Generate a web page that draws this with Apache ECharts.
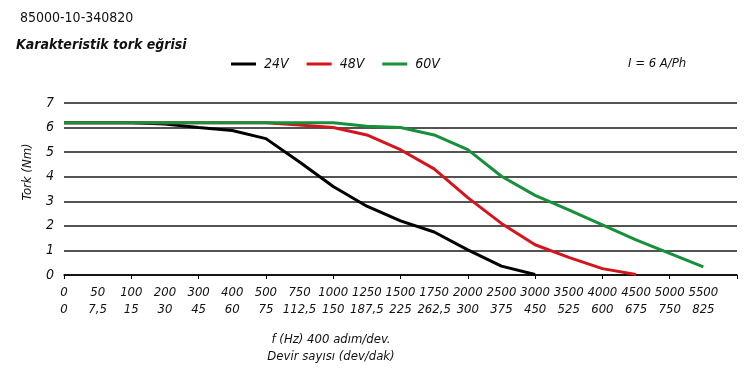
<!DOCTYPE html>
<html><head><meta charset="utf-8">
<script src="https://cdn.jsdelivr.net/npm/echarts@6/dist/echarts.min.js"></script>
<style>html,body{margin:0;padding:0;background:#fff}#c{width:750px;height:386px}</style>
</head><body><div id="c"></div>
<script>
const FONT = '"Liberation Sans Narrow","DejaVu Sans Condensed","Arial Narrow","Liberation Sans",sans-serif';
const freqLabels = ['0','50','100','200','300','400','500','750','1000','1250','1500','1750','2000','2500','3000','3500','4000','4500','5000','5500',''];
const rpmLabels  = ['0','7,5','15','30','45','60','75','112,5','150','187,5','225','262,5','300','375','450','525','600','675','750','825',''];
const v24 = [6.2,6.2,6.2,6.15,6.0,5.88,5.55,4.6,3.6,2.8,2.2,1.75,1.02,0.36,0.02];
const v48 = [6.2,6.2,6.2,6.2,6.2,6.2,6.2,6.1,6.0,5.7,5.1,4.32,3.15,2.1,1.23,0.72,0.26,0.02];
const v60 = [6.2,6.2,6.2,6.2,6.2,6.2,6.2,6.2,6.2,6.05,6.0,5.7,5.1,4.02,3.24,2.65,2.04,1.43,0.88,0.33];
const seriesNames = ['24V','48V','60V'];
const colors = ['#000000','#d3161d','#16903a'];

const chart = echarts.init(document.getElementById('c'), null, {renderer:'canvas'});
chart.setOption({
  animation:false,
  backgroundColor:'#fff',
  textStyle:{fontFamily:FONT},
  title:[
    {text:'85000-10-340820', left:15, top:6, textStyle:{fontFamily:FONT,fontSize:14,fontWeight:'normal',color:'#111'}},
    {text:'Karakteristik tork eğrisi', left:11, top:33, textStyle:{fontFamily:FONT,fontSize:14,fontWeight:'bold',fontStyle:'italic',color:'#111'}},
    {text:'I = 6 A/Ph', left:623, top:52, textStyle:{fontFamily:FONT,fontSize:13,fontWeight:'normal',fontStyle:'italic',color:'#111'}}
  ],
  legend:{
    left:226, top:52, itemWidth:25, itemHeight:3, itemGap:18, icon:'rect',
    data:seriesNames,
    textStyle:{fontFamily:FONT,fontSize:14,fontStyle:'italic',color:'#111',padding:[0,0,0,3]}
  },
  grid:{left:64, right:13, top:103, bottom:111, containLabel:false},
  xAxis:{
    type:'category', boundaryGap:false, data:freqLabels.map((f,i)=>i),
    axisLine:{lineStyle:{color:'#000',width:1.5}},
    axisTick:{interval:1, length:4, lineStyle:{color:'#000',width:1}},
    axisLabel:{
      interval:0, margin:9,
      formatter:(v,i)=> freqLabels[i]==='' ? '' : '{a|'+freqLabels[i]+'}\n{b|'+rpmLabels[i]+'}',
      rich:{
        a:{fontFamily:FONT,fontSize:13,fontStyle:'italic',color:'#111',lineHeight:17,align:'center'},
        b:{fontFamily:FONT,fontSize:13,fontStyle:'italic',color:'#111',lineHeight:17,align:'center'}
      }
    },
    splitLine:{show:false}
  },
  yAxis:{
    type:'value', min:0, max:7, interval:1,
    axisLine:{show:false}, axisTick:{show:false},
    axisLabel:{margin:10, fontFamily:FONT,fontSize:14,fontStyle:'italic',color:'#111'},
    splitLine:{lineStyle:{color:'#1a1a1a',width:1.5}}
  },
  graphic:[
    {type:'text', x:28, y:172, rotation:Math.PI/2, style:{text:'Tork (Nm)', font:'italic 13px '+FONT, fill:'#111', textAlign:'center', textVerticalAlign:'middle'}},
    {type:'text', x:331, y:340, style:{text:'f (Hz) 400 adım/dev.', font:'italic 13px '+FONT, fill:'#111', textAlign:'center', textVerticalAlign:'middle'}},
    {type:'text', x:331, y:357, style:{text:'Devir sayısı (dev/dak)', font:'italic 13px '+FONT, fill:'#111', textAlign:'center', textVerticalAlign:'middle'}}
  ],
  series:[v24,v48,v60].map((d,k)=>({
    name:seriesNames[k], type:'line', data:d, symbol:'none',
    lineStyle:{color:colors[k], width:3}, itemStyle:{color:colors[k]}, z:3+k
  }))
});
</script></body></html>
